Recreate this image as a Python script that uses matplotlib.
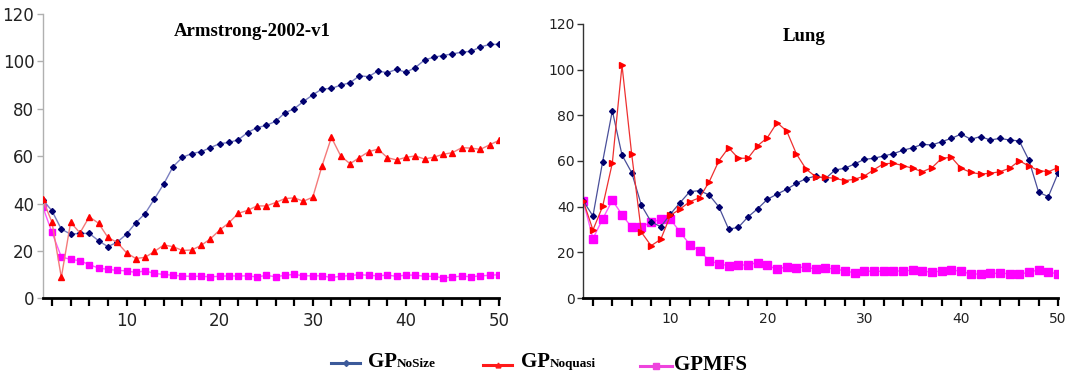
import numpy as np
import matplotlib
matplotlib.use("Agg")
import matplotlib.pyplot as plt
from matplotlib.lines import Line2D
from matplotlib.ticker import MultipleLocator

# ---- data ------------------------------------------------------------
gens = np.arange(1, 51)

arm_nosize = [41.7, 36.9, 29.2, 27.1, 27.4, 27.4, 24.3, 21.8, 23.7, 27.1,
              31.9, 35.8, 42.0, 48.3, 55.6, 59.5, 61.1, 61.9, 63.6, 65.3,
              65.8, 66.9, 70.0, 72.0, 73.0, 74.7, 78.3, 80.0, 83.1, 85.9,
              88.4, 88.6, 90.0, 91.0, 93.9, 93.6, 96.0, 95.2, 96.7, 95.4,
              97.4, 100.6, 101.8, 102.5, 103.2, 103.9, 104.3, 106.1, 107.2, 107.2]
arm_noquasi = [41.8, 32.1, 8.8, 32.1, 27.6, 34.4, 31.7, 25.7, 23.6, 19.2,
               16.8, 17.3, 19.8, 22.5, 21.8, 20.2, 20.4, 22.3, 25.1, 28.8,
               31.9, 35.9, 37.1, 39.0, 39.0, 40.4, 42.1, 42.4, 41.0, 42.7,
               56.0, 67.9, 60.1, 56.8, 59.4, 61.9, 63.0, 59.4, 58.4, 59.5,
               60.1, 58.8, 59.6, 60.8, 61.5, 63.6, 63.4, 62.9, 64.8, 66.7]
arm_gpmfs = [38.7, 27.8, 17.5, 16.4, 15.9, 14.2, 12.8, 12.2, 11.8, 11.6,
             10.9, 11.6, 10.5, 10.1, 9.7, 9.4, 9.3, 9.3, 9.1, 9.3,
             9.5, 9.4, 9.5, 9.0, 9.7, 9.1, 9.7, 10.1, 9.5, 9.5,
             9.5, 8.8, 9.3, 9.6, 10.0, 9.7, 9.5, 9.8, 9.3, 9.8,
             9.8, 9.3, 9.3, 8.6, 9.0, 9.4, 9.1, 9.5, 9.7, 10.0]

lung_nosize = [42.5, 35.9, 59.7, 82.0, 62.6, 54.9, 40.6, 33.4, 31.2, 36.8,
               41.8, 46.6, 47.0, 45.1, 39.9, 30.2, 30.9, 35.5, 39.1, 43.2,
               45.5, 47.6, 50.2, 52.3, 53.4, 52.3, 56.1, 56.8, 58.7, 60.7,
               61.2, 62.2, 63.2, 64.7, 65.8, 67.3, 67.0, 68.5, 69.9, 71.8,
               69.5, 70.7, 69.2, 69.9, 69.2, 68.8, 60.3, 46.3, 44.4, 54.6]
lung_noquasi = [42.5, 29.8, 40.1, 59.1, 101.9, 62.9, 28.8, 22.9, 25.7, 36.2,
                39.0, 42.2, 43.9, 50.9, 60.1, 65.8, 61.2, 61.2, 66.7, 70.2,
                76.8, 73.1, 63.1, 56.4, 53.1, 52.8, 52.4, 51.4, 52.0, 53.4,
                56.2, 58.8, 59.0, 58.0, 56.8, 55.3, 57.1, 61.2, 61.6, 56.8,
                55.0, 54.3, 54.6, 55.3, 56.8, 60.1, 57.8, 55.8, 55.3, 57.1]
lung_gpmfs = [42.5, 26.0, 34.6, 42.8, 36.5, 30.9, 31.2, 33.1, 34.5, 34.5,
              28.8, 23.4, 20.7, 16.4, 14.9, 14.2, 14.3, 14.6, 15.5, 14.3,
              12.6, 13.7, 13.3, 13.6, 12.6, 13.0, 12.8, 11.8, 11.1, 11.8,
              11.7, 11.7, 12.0, 11.7, 12.3, 11.7, 11.4, 11.8, 12.3, 11.7,
              10.5, 10.5, 10.8, 10.8, 10.7, 10.5, 11.2, 12.4, 11.2, 10.7]

titles = ["Armstrong-2002-v1", "Lung"]

NAVY, BLUE_LN = "#00006e", "#7a7fc0"
RED, RED_LN = "#ff0000", "#f47a7a"
MAG, MAG_LN = "#ff00ff", "#ff55ff"
SERIF = "Liberation Serif"

fig = plt.figure(figsize=(10.7, 3.78), dpi=100)
axL = fig.add_axes([0.0399, 0.2108, 0.4265, 0.752])
axR = fig.add_axes([0.5451, 0.2116, 0.4437, 0.725])


def style(ax, spine_col, fs):
    ax.set_xlim(1, 50)
    ax.set_ylim(0, 120)
    ax.spines["top"].set_visible(False)
    ax.spines["right"].set_visible(False)
    ax.spines["left"].set_color(spine_col)
    ax.spines["left"].set_linewidth(1.0)
    ax.spines["bottom"].set_linewidth(2.0)
    ax.xaxis.set_major_locator(MultipleLocator(10))
    ax.xaxis.set_minor_locator(MultipleLocator(2))
    ax.yaxis.set_major_locator(MultipleLocator(20))
    ax.tick_params(axis="x", which="both", length=6, width=1.6,
                   color="black", labelsize=fs, pad=4, labelcolor="#222222")
    ax.tick_params(axis="y", length=4, width=1.0, color=spine_col,
                   labelsize=fs, pad=2, labelcolor="#222222")


# left panel
axL.plot(gens, arm_nosize, color=BLUE_LN, lw=1.0, marker="D", ms=3.0,
         mfc=NAVY, mec=NAVY, zorder=3)
axL.plot(gens, arm_noquasi, color=RED_LN, lw=1.0, marker="^", ms=4.3,
         mfc=RED, mec=RED, zorder=3)
axL.plot(gens, arm_gpmfs, color=MAG_LN, lw=1.0, marker="s", ms=4.3,
         mfc=MAG, mec=MAG, zorder=2)
style(axL, "#b0b0b0", 12)
axL.text(0.46, 0.94, titles[0], transform=axL.transAxes, ha="center",
         va="center", fontsize=13.5, weight="bold", family=SERIF)

# right panel
axR.plot(gens, lung_nosize, color="#4a4f9a", lw=0.9, marker="D", ms=3.0,
         mfc=NAVY, mec=NAVY, zorder=3)
axR.plot(gens, lung_noquasi, color="#ee3030", lw=0.9, marker=">", ms=4.6,
         mfc=RED, mec=RED, zorder=3)
axR.plot(gens, lung_gpmfs, color=MAG_LN, lw=1.0, marker="s", ms=5.5,
         mfc=MAG, mec=MAG, zorder=2)
style(axR, "#333333", 10)
axR.text(0.465, 0.955, titles[1], transform=axR.transAxes, ha="center",
         va="center", fontsize=13.5, weight="bold", family=SERIF)

# ---- legend along the bottom -----------------------------------------
W, H = 1070, 378


def handle(x0, x1, y, color, marker, ms):
    fig.add_artist(Line2D([x0 / W, x1 / W], [1 - y / H, 1 - y / H],
                          transform=fig.transFigure, color=color, lw=2.2,
                          marker=None))
    fig.add_artist(Line2D([(x0 + x1) / 2 / W], [1 - y / H],
                          transform=fig.transFigure, color=color,
                          marker=marker, ms=ms, lw=0))


handle(331, 360, 363, "#3c5a9a", "D", 3.0)
handle(483, 512, 365, "#ff1a1a", "^", 3.5)
handle(640, 672, 366, "#ee44dd", "s", 4.5)

for x, big, small in [(368, "GP", "NoSize"), (521, "GP", "Noquasi")]:
    t = fig.text(x / W, 1 - 367 / H, big, fontsize=15, weight="bold",
                 family=SERIF, va="baseline")
    fig.canvas.draw()
    bb = t.get_window_extent()
    fig.text(bb.x1 / W, 1 - 367 / H, small, fontsize=9.5, weight="bold",
             family=SERIF, va="baseline")
fig.text(674 / W, 1 - 370 / H, "GPMFS", fontsize=15, weight="bold",
         family=SERIF, va="baseline")

fig.savefig("out.png", dpi=100)
